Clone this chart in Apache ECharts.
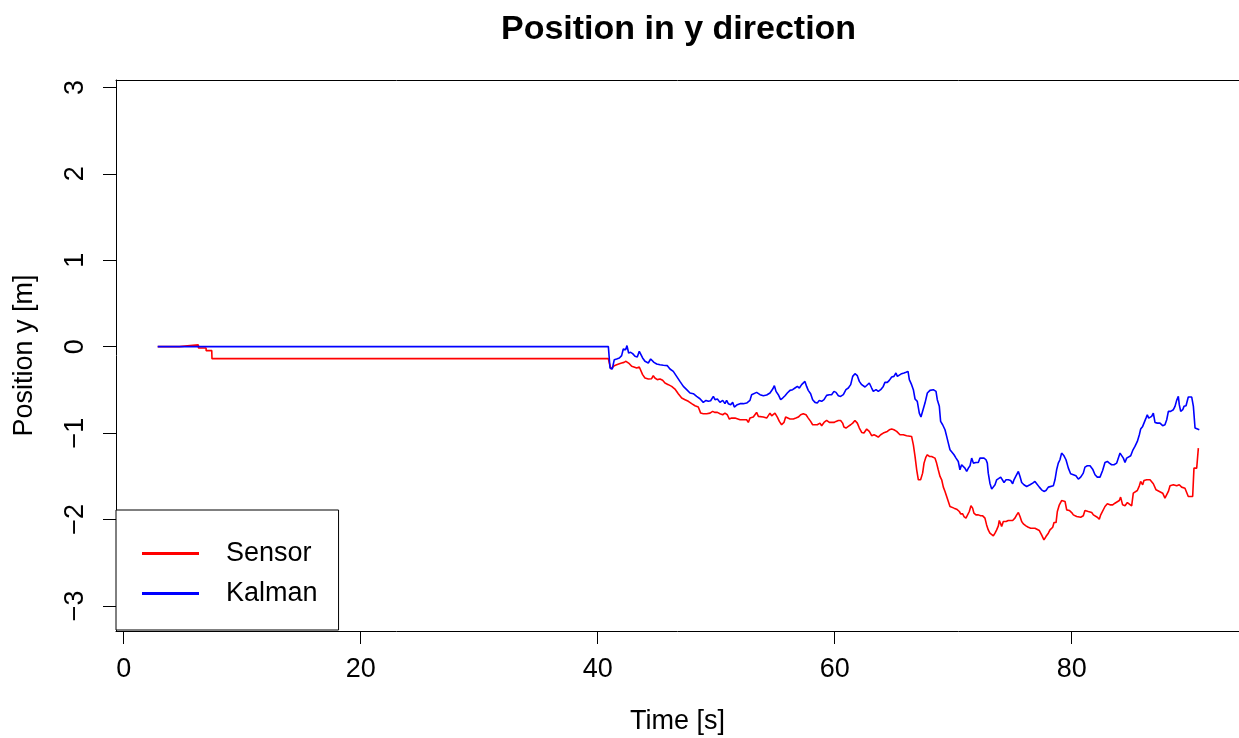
<!DOCTYPE html>
<html>
<head>
<meta charset="utf-8">
<title>Position in y direction</title>
<script src="https://cdn.jsdelivr.net/npm/echarts@6/dist/echarts.min.js"></script>
<style>
  html, body { margin: 0; padding: 0; background: #fff; }
  #chart { width: 1239px; height: 738px; }
</style>
</head>
<body>
<div id="chart"></div>
<script>
// Raw sensor reading of the y position (time in s, position in m)
const sensorTime = [
  2.87, 4.69, 4.70, 6.30, 6.31, 6.95, 6.96, 7.43, 7.45, 40.90,
  40.98, 41.12, 41.26, 41.40, 41.60, 41.83, 42.02, 42.22, 42.39, 42.53,
  42.67, 42.87, 43.06, 43.29, 43.51, 43.65, 43.79, 43.99, 44.27, 44.55,
  44.69, 44.83, 45.03, 45.26, 45.48, 45.68, 45.96, 46.24, 46.52, 46.80,
  47.09, 47.37, 47.65, 47.93, 48.21, 48.49, 48.69, 48.91, 49.20, 49.48,
  49.70, 49.90, 50.10, 50.32, 50.55, 50.74, 50.94, 51.11, 51.30, 51.45,
  51.59, 51.73, 52.01, 52.29, 52.57, 52.71, 52.85, 53.13, 53.27, 53.41,
  53.56, 53.70, 53.98, 54.26, 54.54, 54.68, 54.82, 54.96, 55.16, 55.33,
  55.52, 55.72, 55.86, 56.00, 56.23, 56.51, 56.73, 56.93, 57.13, 57.35,
  57.58, 57.77, 57.97, 58.14, 58.34, 58.53, 58.76, 58.90, 59.10, 59.32,
  59.55, 59.74, 59.94, 60.11, 60.31, 60.50, 60.67, 60.78, 60.95, 61.15,
  61.35, 61.52, 61.71, 61.91, 62.08, 62.28, 62.47, 62.70, 62.92, 63.12,
  63.32, 63.49, 63.68, 63.88, 64.10, 64.24, 64.44, 64.61, 64.81, 65.00,
  65.23, 65.37, 65.51, 65.79, 66.07, 66.49, 66.64, 66.78, 66.92, 67.06,
  67.25, 67.42, 67.54, 67.70, 67.82, 67.99, 68.18, 68.32, 68.46, 68.60,
  68.74, 68.89, 69.03, 69.17, 69.31, 69.45, 69.59, 69.73, 69.87, 70.07,
  70.29, 70.52, 70.63, 70.80, 70.91, 71.08, 71.22, 71.36, 71.50, 71.64,
  71.75, 71.92, 72.12, 72.32, 72.49, 72.68, 72.82, 72.96, 73.10, 73.25,
  73.39, 73.53, 73.67, 73.81, 73.89, 74.01, 74.09, 74.23, 74.46, 74.65,
  74.85, 75.02, 75.21, 75.36, 75.50, 75.64, 75.78, 75.92, 76.14, 76.34,
  76.54, 76.71, 76.90, 77.04, 77.27, 77.46, 77.66, 77.83, 78.03, 78.17,
  78.40, 78.51, 78.68, 78.79, 78.96, 79.15, 79.30, 79.44, 79.58, 79.80,
  80.00, 80.14, 80.28, 80.42, 80.56, 80.76, 80.98, 81.12, 81.40, 81.69,
  81.83, 81.97, 82.16, 82.33, 82.45, 82.61, 82.81, 83.01, 83.23, 83.46,
  83.65, 83.80, 84.02, 84.13, 84.30, 84.50, 84.70, 84.86, 85.06, 85.20,
  85.34, 85.54, 85.71, 85.82, 85.99, 86.10, 86.33, 86.61, 86.89, 87.12,
  87.40, 87.68, 87.87, 88.02, 88.16, 88.30, 88.58, 88.86, 89.08, 89.28,
  89.42, 89.56, 89.70, 89.84, 90.21, 90.32, 90.55, 90.69
];
const sensorPos = [
  0.000, 0.000, 0.020, 0.020, -0.015, -0.015, -0.046, -0.046, -0.139, -0.139,
  -0.189, -0.259, -0.247, -0.220, -0.209, -0.197, -0.189, -0.182, -0.170, -0.178,
  -0.197, -0.228, -0.236, -0.247, -0.236, -0.259, -0.324, -0.363, -0.375, -0.371,
  -0.336, -0.363, -0.382, -0.375, -0.390, -0.421, -0.440, -0.460, -0.491, -0.545,
  -0.595, -0.614, -0.633, -0.660, -0.684, -0.699, -0.769, -0.776, -0.776, -0.769,
  -0.749, -0.761, -0.761, -0.776, -0.788, -0.769, -0.788, -0.838, -0.827, -0.846,
  -0.827, -0.846, -0.846, -0.846, -0.846, -0.877, -0.827, -0.815, -0.788, -0.761,
  -0.807, -0.827, -0.815, -0.827, -0.769, -0.800, -0.815, -0.769, -0.815, -0.865,
  -0.904, -0.877, -0.815, -0.838, -0.838, -0.838, -0.827, -0.815, -0.788, -0.776,
  -0.788, -0.827, -0.865, -0.904, -0.904, -0.904, -0.885, -0.915, -0.877, -0.854,
  -0.877, -0.877, -0.877, -0.865, -0.854, -0.854, -0.885, -0.931, -0.942, -0.923,
  -0.904, -0.885, -0.854, -0.885, -0.942, -0.993, -1.000, -0.954, -0.981, -1.031,
  -1.020, -1.031, -1.047, -1.020, -1.000, -0.981, -0.981, -0.962, -0.954, -0.962,
  -0.981, -0.962, -1.020, -1.020, -1.031, -1.039, -1.136, -1.271, -1.425, -1.541,
  -1.541, -1.464, -1.348, -1.278, -1.251, -1.271, -1.271, -1.278, -1.290, -1.348,
  -1.425, -1.502, -1.541, -1.626, -1.676, -1.734, -1.792, -1.850, -1.869, -1.869,
  -1.881, -1.908, -1.935, -1.935, -1.966, -1.985, -1.966, -1.908, -1.842, -1.869,
  -1.927, -1.947, -1.947, -1.958, -1.958, -1.985, -2.063, -2.121, -2.159, -2.167,
  -2.190, -2.159, -2.121, -2.074, -2.012, -2.051, -2.082, -2.024, -2.024, -2.012,
  -2.012, -2.012, -1.985, -1.947, -1.920, -1.966, -2.024, -2.051, -2.074, -2.090,
  -2.101, -2.101, -2.101, -2.113, -2.128, -2.179, -2.236, -2.198, -2.159, -2.121,
  -2.090, -2.036, -2.036, -1.908, -1.831, -1.781, -1.765, -1.792, -1.889, -1.896,
  -1.920, -1.947, -1.935, -1.966, -1.947, -1.974, -1.958, -1.896, -1.908, -1.920,
  -1.947, -1.966, -1.974, -1.997, -1.947, -1.927, -1.850, -1.819, -1.831, -1.831,
  -1.812, -1.792, -1.781, -1.742, -1.831, -1.842, -1.804, -1.812, -1.842, -1.696,
  -1.676, -1.665, -1.611, -1.560, -1.599, -1.549, -1.541, -1.541, -1.587, -1.657,
  -1.676, -1.696, -1.753, -1.753, -1.676, -1.611, -1.599, -1.611, -1.599, -1.626,
  -1.618, -1.638, -1.649, -1.734, -1.734, -1.406, -1.406, -1.174
];

// Kalman filter estimate of the y position
const kalmanTime = [
  2.87, 40.90, 41.04, 41.23, 41.40, 41.60, 41.83, 42.02, 42.16, 42.36,
  42.47, 42.61, 42.78, 42.95, 43.15, 43.34, 43.51, 43.65, 43.79, 43.99,
  44.13, 44.27, 44.47, 44.58, 44.75, 44.98, 45.26, 45.54, 45.88, 46.10,
  46.38, 46.66, 46.94, 47.23, 47.51, 47.79, 48.07, 48.35, 48.63, 48.91,
  49.14, 49.34, 49.53, 49.76, 49.90, 50.10, 50.32, 50.55, 50.74, 50.88,
  51.02, 51.22, 51.39, 51.53, 51.67, 51.78, 52.01, 52.29, 52.57, 52.85,
  52.99, 53.13, 53.41, 53.70, 53.98, 54.26, 54.54, 54.77, 54.91, 55.05,
  55.24, 55.44, 55.61, 55.81, 56.00, 56.23, 56.45, 56.65, 56.85, 57.02,
  57.21, 57.35, 57.49, 57.63, 57.77, 57.97, 58.14, 58.34, 58.53, 58.70,
  58.90, 59.10, 59.32, 59.55, 59.74, 59.94, 60.11, 60.31, 60.50, 60.73,
  60.95, 61.15, 61.35, 61.52, 61.71, 61.91, 62.08, 62.28, 62.42, 62.56,
  62.70, 62.92, 63.12, 63.26, 63.49, 63.68, 63.88, 64.10, 64.24, 64.44,
  64.61, 64.81, 65.00, 65.17, 65.29, 65.45, 65.65, 65.85, 66.02, 66.19,
  66.30, 66.49, 66.64, 66.78, 66.97, 67.14, 67.28, 67.42, 67.62, 67.82,
  68.04, 68.32, 68.55, 68.66, 68.83, 68.94, 69.11, 69.31, 69.45, 69.59,
  69.73, 69.87, 70.07, 70.24, 70.43, 70.57, 70.71, 70.85, 70.99, 71.14,
  71.28, 71.42, 71.56, 71.70, 71.92, 72.12, 72.26, 72.40, 72.60, 72.77,
  72.88, 72.96, 73.10, 73.25, 73.39, 73.53, 73.67, 73.81, 74.01, 74.17,
  74.29, 74.46, 74.65, 74.85, 75.02, 75.13, 75.30, 75.50, 75.64, 75.78,
  75.97, 76.20, 76.48, 76.71, 76.90, 77.04, 77.27, 77.46, 77.66, 77.83,
  78.03, 78.17, 78.45, 78.59, 78.73, 78.87, 79.01, 79.15, 79.35, 79.52,
  79.72, 79.91, 80.14, 80.36, 80.56, 80.76, 80.98, 81.12, 81.32, 81.55,
  81.77, 81.97, 82.16, 82.39, 82.61, 82.81, 83.01, 83.18, 83.37, 83.57,
  83.80, 83.94, 84.08, 84.22, 84.36, 84.50, 84.64, 84.78, 84.98, 85.15,
  85.34, 85.54, 85.71, 85.82, 85.99, 86.10, 86.27, 86.38, 86.50, 86.61,
  86.75, 86.89, 87.03, 87.23, 87.45, 87.68, 87.87, 88.02, 88.16, 88.35,
  88.58, 88.72, 88.86, 89.00, 89.08, 89.20, 89.37, 89.48, 89.65, 89.84,
  90.13, 90.27, 90.41, 90.55, 90.77
];
const kalmanPos = [
  0.000, 0.000, -0.247, -0.259, -0.151, -0.143, -0.131, -0.104, -0.027, -0.035,
  0.012, -0.073, -0.066, -0.081, -0.112, -0.120, -0.054, -0.066, -0.131, -0.170,
  -0.189, -0.189, -0.143, -0.131, -0.182, -0.201, -0.209, -0.216, -0.220, -0.259,
  -0.286, -0.344, -0.402, -0.460, -0.498, -0.537, -0.545, -0.576, -0.603, -0.645,
  -0.622, -0.633, -0.626, -0.576, -0.614, -0.606, -0.645, -0.622, -0.660, -0.622,
  -0.660, -0.672, -0.645, -0.699, -0.722, -0.672, -0.660, -0.660, -0.653, -0.622,
  -0.556, -0.537, -0.529, -0.556, -0.568, -0.560, -0.537, -0.491, -0.452, -0.518,
  -0.556, -0.614, -0.595, -0.568, -0.537, -0.506, -0.498, -0.479, -0.460, -0.479,
  -0.440, -0.421, -0.402, -0.460, -0.506, -0.545, -0.614, -0.645, -0.653, -0.622,
  -0.633, -0.614, -0.564, -0.556, -0.556, -0.518, -0.529, -0.568, -0.576, -0.556,
  -0.498, -0.479, -0.440, -0.344, -0.313, -0.336, -0.402, -0.440, -0.421, -0.467,
  -0.460, -0.421, -0.479, -0.518, -0.498, -0.518, -0.498, -0.460, -0.413, -0.413,
  -0.390, -0.351, -0.344, -0.305, -0.344, -0.363, -0.313, -0.305, -0.297, -0.286,
  -0.382, -0.440, -0.498, -0.606, -0.633, -0.769, -0.815, -0.800, -0.653, -0.537,
  -0.506, -0.498, -0.518, -0.614, -0.691, -0.865, -0.904, -0.962, -1.039, -1.116,
  -1.194, -1.213, -1.251, -1.290, -1.329, -1.425, -1.367, -1.387, -1.406, -1.445,
  -1.406, -1.379, -1.290, -1.348, -1.340, -1.340, -1.290, -1.278, -1.290, -1.309,
  -1.348, -1.464, -1.580, -1.649, -1.649, -1.599, -1.541, -1.522, -1.510, -1.502,
  -1.572, -1.541, -1.541, -1.549, -1.587, -1.541, -1.495, -1.445, -1.502, -1.572,
  -1.599, -1.618, -1.599, -1.580, -1.560, -1.580, -1.626, -1.657, -1.676, -1.665,
  -1.626, -1.618, -1.611, -1.541, -1.425, -1.348, -1.309, -1.232, -1.263, -1.309,
  -1.406, -1.472, -1.483, -1.495, -1.533, -1.510, -1.464, -1.394, -1.379, -1.379,
  -1.418, -1.483, -1.510, -1.510, -1.433, -1.340, -1.329, -1.348, -1.367, -1.367,
  -1.348, -1.290, -1.232, -1.225, -1.290, -1.340, -1.290, -1.309, -1.263, -1.201,
  -1.155, -1.097, -1.020, -0.954, -0.923, -0.885, -0.827, -0.788, -0.827, -0.846,
  -0.807, -0.769, -0.877, -0.885, -0.885, -0.915, -0.904, -0.846, -0.749, -0.749,
  -0.730, -0.691, -0.622, -0.576, -0.672, -0.749, -0.730, -0.691, -0.684, -0.583,
  -0.583, -0.691, -0.942, -0.954, -0.962
];

// Axis ticks
const xTicks = [0, 20, 40, 60, 80];
const yTicks = [-3, -2, -1, 0, 1, 2, 3];

const FONT = '"Liberation Sans", Arial, Helvetica, sans-serif';

function pairs(t, v) {
  return t.map((x, i) => [x, v[i]]);
}

// Negative tick labels use a true minus sign
function tickText(v) {
  return String(v).replace('-', '\u2212');
}

const chart = echarts.init(document.getElementById('chart'), null, { renderer: 'canvas' });

const axisLineStyle = { color: '#000', width: 1 };

chart.setOption({
  animation: false,
  backgroundColor: '#fff',
  title: {
    text: 'Position in y direction',
    left: 501,
    top: 13,
    padding: 0,
    textStyle: { fontFamily: FONT, fontSize: 34, fontWeight: 'bold', color: '#000' }
  },
  grid: {
    left: 116, right: 0, top: 80, bottom: 107,
    outerBoundsMode: 'none'
  },
  legend: {
    orient: 'vertical',
    left: 116,
    top: 510,
    padding: [30, 21, 23, 26],
    itemWidth: 57,
    itemHeight: 3,
    itemGap: 13,
    icon: 'rect',
    borderColor: '#000',
    borderWidth: 1,
    borderRadius: 0,
    backgroundColor: '#fff',
    textStyle: { fontFamily: FONT, fontSize: 27, color: '#000', padding: [0, 0, 0, 22] },
    data: ['Sensor', 'Kalman']
  },
  xAxis: [{
    type: 'value',
    min: -0.65,
    max: 94.12,
    position: 'bottom',
    name: 'Time [s]',
    nameLocation: 'middle',
    nameGap: 77,
    nameTextStyle: { fontFamily: FONT, fontSize: 27, color: '#000' },
    splitLine: { show: false },
    axisLine: { show: true, onZero: false, lineStyle: axisLineStyle },
    axisTick: { show: true, inside: false, length: 13, lineStyle: axisLineStyle, customValues: xTicks },
    axisLabel: { show: true, margin: 25, fontFamily: FONT, fontSize: 27, color: '#000', customValues: xTicks }
  }, {
    type: 'value',
    min: -0.65,
    max: 94.12,
    position: 'top',
    splitLine: { show: false },
    axisLine: { show: true, onZero: false, lineStyle: axisLineStyle },
    axisTick: { show: false },
    axisLabel: { show: false }
  }],
  yAxis: {
    type: 'value',
    min: -3.291,
    max: 3.086,
    position: 'left',
    name: 'Position y [m]',
    nameLocation: 'middle',
    nameRotate: 90,
    nameGap: 78,
    nameTextStyle: { fontFamily: FONT, fontSize: 27, color: '#000' },
    splitLine: { show: false },
    axisLine: { show: true, onZero: false, lineStyle: axisLineStyle },
    axisTick: { show: true, inside: false, length: 13, lineStyle: axisLineStyle, customValues: yTicks },
    axisLabel: {
      show: true, rotate: 90, margin: 27, fontFamily: FONT, fontSize: 27, color: '#000',
      customValues: yTicks, formatter: tickText
    }
  },
  series: [{
    name: 'Sensor',
    type: 'line',
    xAxisIndex: 0,
    data: pairs(sensorTime, sensorPos),
    showSymbol: false,
    symbol: 'none',
    color: '#ff0000',
    lineStyle: { color: '#ff0000', width: 1.6 },
    emphasis: { disabled: true }
  }, {
    name: 'Kalman',
    type: 'line',
    xAxisIndex: 0,
    data: pairs(kalmanTime, kalmanPos),
    showSymbol: false,
    symbol: 'none',
    color: '#0000ff',
    lineStyle: { color: '#0000ff', width: 1.6 },
    emphasis: { disabled: true }
  }]
});
</script>
</body>
</html>
